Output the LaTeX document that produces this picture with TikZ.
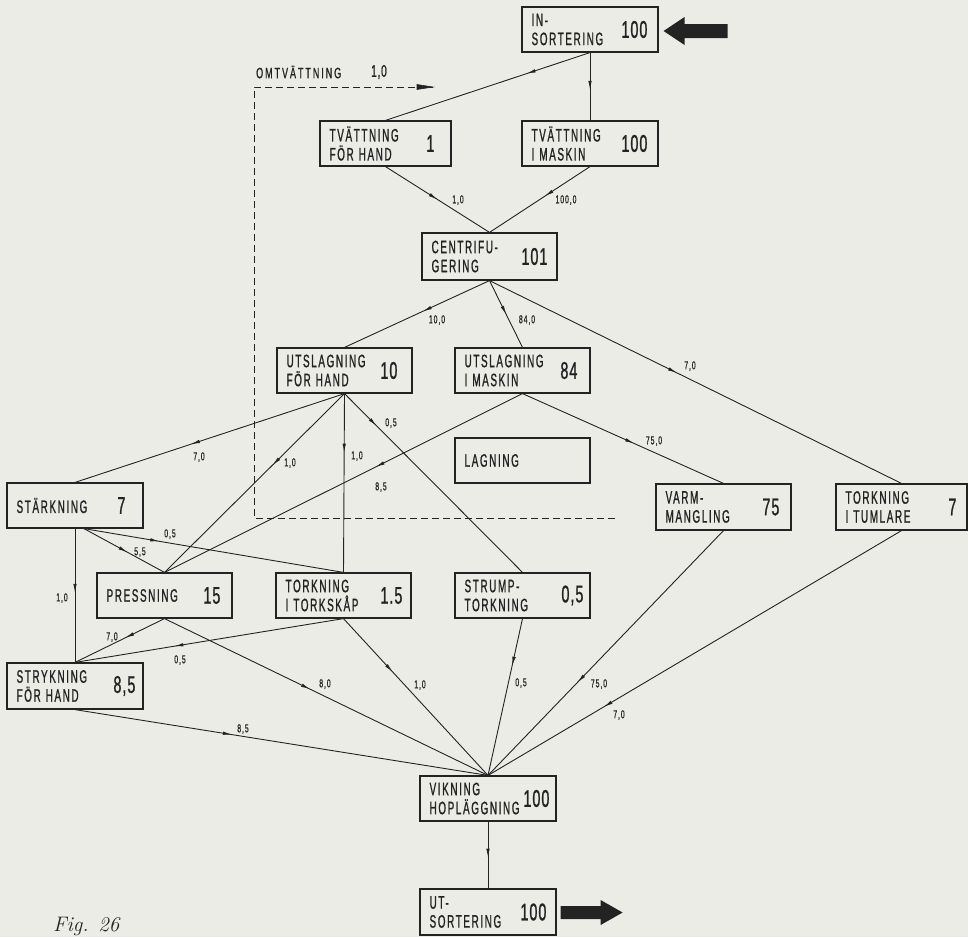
\documentclass[tikz,border=0pt]{standalone}
\usepackage{fontspec}
\usetikzlibrary{arrows.meta,decorations.markings,calc}
\newfontfamily\lblfont[FakeStretch=0.55,LetterSpace=9,FakeBold=1]{Liberation Sans}
\newfontfamily\omtfont[FakeStretch=0.6,LetterSpace=13,FakeBold=1]{Liberation Sans}
\newfontfamily\numfont[FakeStretch=0.6,LetterSpace=4,FakeBold=1]{Liberation Sans}
\newfontfamily\smlfont[FakeStretch=0.6,LetterSpace=8,FakeBold=0.6]{Liberation Sans}
\definecolor{paper}{RGB}{236,236,231}
\definecolor{ink}{RGB}{35,35,35}
\newcommand\wsp{\hspace{5pt}}
\tikzset{
  box/.style={draw=ink, line width=1.2pt, inner sep=0pt},
  btxt/.style={anchor=west, inner sep=0pt, align=left, font=\lblfont\fontsize{18}{19}\selectfont, text=ink},
  bnum/.style={anchor=east, inner sep=0pt, font=\numfont\fontsize{24}{24}\selectfont, text=ink},
  elab/.style={inner sep=0pt, font=\smlfont\fontsize{11.5}{11.5}\selectfont, text=ink},
  edge/.style={draw=ink, line width=0.9pt},
  flow/.style={edge, postaction={decorate}, decoration={markings, mark=at position #1 with {\arrow{Latex[length=9pt,width=3.5pt]}}}},
  dashline/.style={draw=ink, line width=0.9pt, dash pattern=on 7pt off 4pt},
}
\newcommand\procbox[8]{%
  \node[box, minimum width={(#4-#2)*1pt}, minimum height={(#5-#3)*1pt}] (#1) at ({(#2+#4)/2},{(#3+#5)/2}) {};
  \node[btxt] (#1t) at ([xshift=10pt]#1.west) {#6};
  \node[bnum] (#1n) at ([xshift=-#8pt]#1.east) {#7};
}
\begin{document}
\begin{tikzpicture}[x=1pt,y=-1pt]
\fill[paper] (0,0) rectangle (968,937);
\useasboundingbox (0,0) rectangle (968,937);

\procbox{in}{522}{7}{658}{52}{IN-\\SORTERING}{100}{11}
\procbox{twh}{320}{121}{451}{166}{TVÄTTNING\\FÖR\wsp HAND}{1}{17}
\procbox{twm}{522}{121}{658}{166}{TVÄTTNING\\I\wsp MASKIN}{100}{11}
\procbox{cen}{422}{233}{557}{280}{CENTRIFU-\\GERING}{101}{10}
\procbox{uth}{277}{348}{412}{393}{UTSLAGNING\\FÖR\wsp HAND}{10}{15}
\procbox{utm}{455}{348}{590}{393}{UTSLAGNING\\I\wsp MASKIN}{84}{13}
\procbox{lag}{455}{438}{590}{483}{LAGNING}{}{10}
\procbox{st}{7}{483}{143}{528}{STÄRKNING}{7}{18}
\procbox{varm}{656}{484}{791}{530}{VARM-\\MANGLING}{75}{12}
\procbox{tum}{836}{484}{967}{530}{TORKNING\\I\wsp TUMLARE}{7}{11}
\procbox{pr}{97}{573}{232}{618}{PRESSNING}{15}{12}
\procbox{tsk}{276}{573}{411}{618}{TORKNING\\I\wsp TORKSKÅP}{1.5}{9}
\procbox{sp}{455}{573}{590}{618}{STRUMP-\\TORKNING}{0,5}{7}
\procbox{sk}{7}{663}{143}{709}{STRYKNING\\FÖR\wsp HAND}{8,5}{8}
\procbox{vik}{420}{776}{556}{821}{VIKNING\\HOPLÄGGNING}{100}{7}
\procbox{ut}{420}{889}{556}{935}{UT-\\SORTERING}{100}{10}

% connectors
\draw[flow=0.31] (in.south) -- (twh.north);
\draw[flow=0.55] (in.south) -- (twm.north);
\draw[flow=0.5] (twh.south) -- (cen.north);
\draw[flow=0.45] (twm.south) -- (cen.north);
\draw[flow=0.46] (cen.south) -- (uth.north);
\draw[flow=0.51] (cen.south) -- (utm.north);
\draw[flow=0.455] (cen.south) -- (tum.north);
\draw[flow=0.57] (uth.south) -- (st.north);
\draw[flow=0.40] (uth.south) -- (pr.north);
\draw[flow=0.33] (uth.south) -- (tsk.north);
\draw[flow=0.18] (uth.south) -- (sp.north);
\draw[flow=0.41] (utm.south) -- (pr.north);
\draw[flow=0.555] (utm.south) -- (varm.north);
\draw[flow=0.54] ($(st.south)+(9,0)$) -- (pr.north);
\draw[flow=0.29] ($(st.south)+(9,0)$) -- (tsk.north);
\draw[flow=0.48] (st.south) -- (sk.north);
\draw[flow=0.44] (pr.south) -- (sk.north);
\draw[flow=0.63] (tsk.south) -- (sk.north);
\draw[flow=0.45] (pr.south) -- (vik.north);
\draw[flow=0.34] (tsk.south) -- (vik.north);
\draw[flow=0.38] (sk.south) -- (vik.north);
\draw[flow=0.30] (sp.south) -- (vik.north);
\draw[flow=0.62] (varm.south) -- (vik.north);
\draw[flow=0.72] (tum.south) -- (vik.north);
\draw[flow=0.54] (vik.south) -- (ut.north);

% edge labels
\node[elab] (l1) at (458,200) {1,0};
\node[elab] (l2) at (566,200) {100,0};
\node[elab] (l3) at (437,320) {10,0};
\node[elab] (l4) at (527,320) {84,0};
\node[elab] (l5) at (690,366) {7,0};
\node[elab] (l6) at (199,457) {7,0};
\node[elab] (l7) at (290,463) {1,0};
\node[elab] (l8) at (357,456) {1,0};
\node[elab] (l9) at (391,423) {0,5};
\node[elab] (l10) at (381,487) {8,5};
\node[elab] (l11) at (654,441) {75,0};
\node[elab] (l12) at (140,552) {5,5};
\node[elab] (l13) at (170,534) {0,5};
\node[elab] (l14) at (62,598) {1,0};
\node[elab] (l15) at (112,637) {7,0};
\node[elab] (l16) at (180,660) {0,5};
\node[elab] (l17) at (325,684) {8,0};
\node[elab] (l18) at (420,685) {1,0};
\node[elab] (l19) at (243,729) {8,5};
\node[elab] (l20) at (521,683) {0,5};
\node[elab] (l21) at (599,684) {75,0};
\node[elab] (l22) at (619,715) {7,0};

% rewash loop (dashed)
\coordinate (dA) at (254,518);
\coordinate (dB) at (615,518);
\coordinate (dC) at (254,87);
\coordinate (dD) at (433,87);
\draw[dashline] (dB) -- (dA) -- (dC) -- (dD);
\draw[draw=ink, fill=ink, line width=0.6pt] (dD) -- ++(-16,-2.5) -- ++(0,5) -- cycle;
\node[anchor=west, inner sep=0pt, text=ink, font=\omtfont\fontsize{15}{15}\selectfont] (omt) at (256,72) {OMTVÄTTNING};
\node[inner sep=0pt, text=ink, font=\numfont\fontsize{17}{17}\selectfont] (omtn) at (379,72) {1,0};

% big in/out arrows
\fill[ink] ($(in.east)+(5,1.5)$) coordinate (ia) -- ++(21,-14) -- ++(0,7) -- ++(43,0) -- ++(0,14) -- ++(-43,0) -- ++(0,7) -- cycle;
\fill[ink] ($(ut.east)+(4,-6)$) coordinate (oa) -- ++(40,0) -- ++(0,-6) -- ++(22,12.5) -- ++(-22,12.5) -- ++(0,-6) -- ++(-40,0) -- cycle;

\node[anchor=base west, inner sep=0pt, text=ink, font=\itshape\fontsize{21}{24}\selectfont] (fig) at (53,931) {Fig. 26};
\end{tikzpicture}
\end{document}
